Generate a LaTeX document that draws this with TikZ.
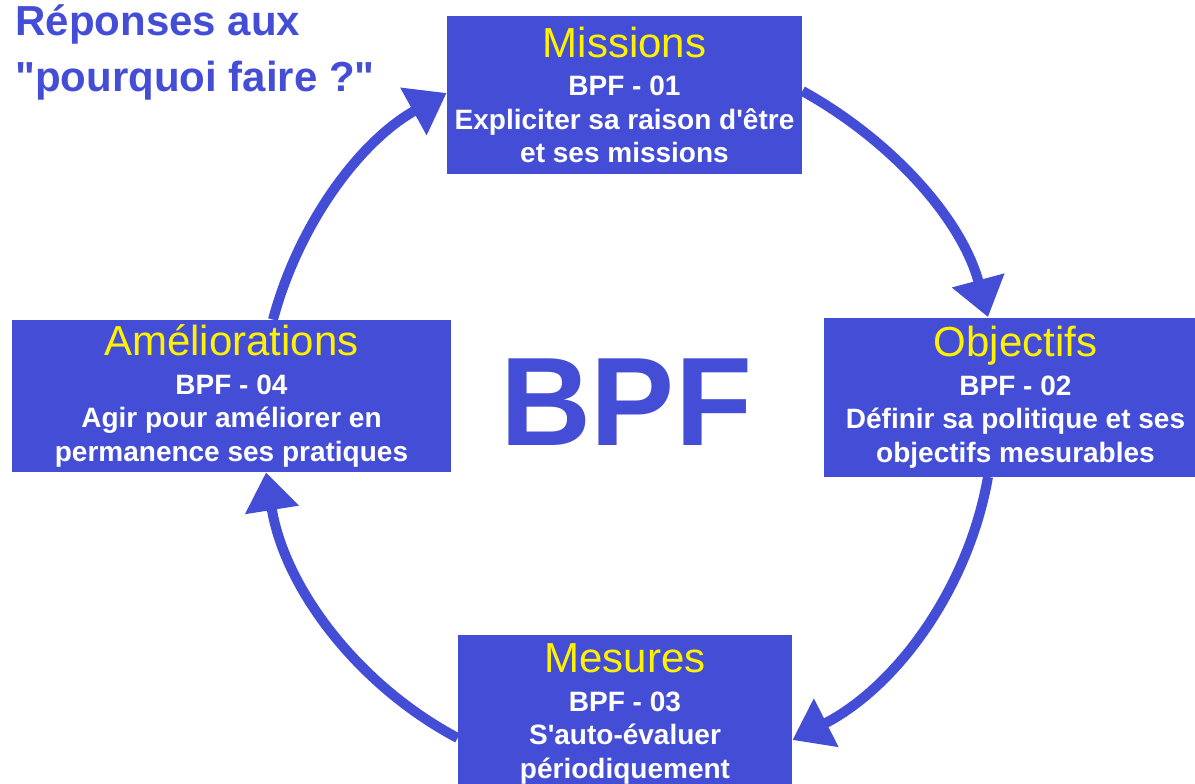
\documentclass[tikz,border=0pt]{standalone}
\usepackage{fontspec}
\usepackage{tikz}
\usetikzlibrary{arrows.meta}
\newfontfamily\bpffont{Liberation Sans}
\definecolor{bpfblue}{RGB}{68,77,214}
\def\titlesize{\fontsize{21}{25}\selectfont}
\newcommand{\boxtitle}[1]{{\color{yellow}\mdseries\titlesize #1}}

\begin{document}
\begin{tikzpicture}[x=0.5pt,y=0.5pt]
    \tikzstyle{bpf box}=[fill=bpfblue,text=white,inner sep=0pt,align=center,
        font=\bpffont\bfseries\fontsize{14}{16.75}\selectfont]
    \tikzstyle{cycle arrow}=[draw=bpfblue,line width=5pt,-{Triangle[length=19pt,width=26pt]}]
    \tikzstyle{heading}=[text=bpfblue,font=\bpffont\bfseries\titlesize,anchor=base west,inner sep=0pt]

    \useasboundingbox (0,0) rectangle (1195,-783);

    % Draw the four boxes of the cycle
    \node[bpf box,minimum width=177.5pt,minimum height=79pt] (miss) at (624.5,-95)
        {\boxtitle{Missions}\\[2.5pt] BPF - 01\\ Expliciter sa raison d'être\\ et ses missions};
    \node[bpf box,minimum width=191.5pt,minimum height=79.5pt] (obj) at (1015.5,-397)
        {\boxtitle{Objectifs}\\[2.5pt] BPF - 02\\ Définir sa politique et ses\\ objectifs mesurables};
    \node[bpf box,minimum width=167pt,minimum height=79pt] (mes) at (625,-714)
        {\boxtitle{Mesures}\\[2.5pt] BPF - 03\\ S'auto-évaluer\\ périodiquement};
    \node[bpf box,minimum width=219.5pt,minimum height=76pt] (amel) at (231.5,-396)
        {\boxtitle{Améliorations}\\[2.5pt] BPF - 04\\ Agir pour améliorer en\\ permanence ses pratiques};

    % Big label in the middle
    \node[text=bpfblue,font=\bpffont\bfseries\fontsize{63}{70}\selectfont,anchor=base,inner sep=0pt]
        (bpf) at (626,-445) {BPF};

    % Heading in the top left corner
    \node[heading] (head1) at (15,-35) {Réponses aux};
    \node[heading] (head2) at (15,-91) {"pourquoi faire ?"};

    % Connect the boxes round the circle
    \draw[cycle arrow] ([xshift=20.75pt]amel.north) to[out=75,in=209,looseness=0.89] ([yshift=1pt]miss.west);
    \draw[cycle arrow] ([yshift=2pt]miss.east) to[out=-29,in=105,looseness=0.89] ([xshift=-13.75pt]obj.north);
    \draw[cycle arrow] ([xshift=-13.75pt]obj.south) to[out=-100,in=27,looseness=0.9] ([yshift=-13pt]mes.east);
    \draw[cycle arrow] ([yshift=-12pt]mes.west) to[out=152,in=279,looseness=0.9] ([xshift=17.25pt]amel.south);
\end{tikzpicture}
\end{document}
